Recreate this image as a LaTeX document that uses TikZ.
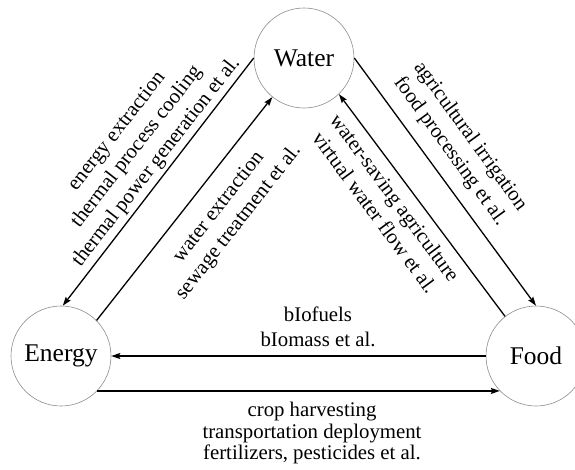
\documentclass[tikz,border=0pt]{standalone}
\usepackage{fontspec}
\setmainfont{Liberation Serif}
\usetikzlibrary{arrows.meta}
\begin{document}
\begin{tikzpicture}[x=1pt,y=-1pt,
  hub/.style={circle, draw=black!45, line width=0.6pt, minimum size=100pt, inner sep=0pt,
    font=\fontsize{25.5}{28}\selectfont},
  link/.style={line width=1.3pt, -{Stealth[length=9pt,width=6pt,inset=1.5pt]}},
  lbl/.style={align=center, inner sep=0pt, font=\fontsize{20.8}{25}\selectfont},
  lblb/.style={align=center, inner sep=0pt, font=\fontsize{20.8}{21.5}\selectfont}]
\useasboundingbox (0,0) rectangle (575,469);
\node[hub] (Water) at (304,58) {Water};
\node[hub] (Energy) at (61,356) {Energy};
\node[hub] (Food) at (536,356) {Food};
% connectors
\draw[link] (Water.180) -- (Energy.88);
\draw[link] (Energy.45) -- (Water.231);
\draw[link] (Food.128) -- (Water.314);
\draw[link] (Water.0) -- (Food.90);
\draw[link] (Food.180) -- (Energy.0);
\draw[link] (Energy.-44.4) -- (Food.224.4);
% labels
\node[lbl, rotate=52] (tA) at (137,147) {energy extraction\\thermal process cooling\\thermal power generation et al.};
\node[lbl, rotate=52] (tB) at (229,215) {water extraction\\sewage treatment et al.};
\node[lbl, rotate=-53.5] (tC) at (385,205) {water-saving agriculture\\virtual water flow et al.};
\node[lbl, rotate=-54] (tD) at (460,144) {agricultural irrigation\\food processing et al.};
\node[lbl] (tE) at (318,327) {bIofuels\\bIomass et al.};
\node[lblb] (tF) at (312,433) {crop harvesting\\transportation deployment\\fertilizers, pesticides et al.};
\end{tikzpicture}
\end{document}
